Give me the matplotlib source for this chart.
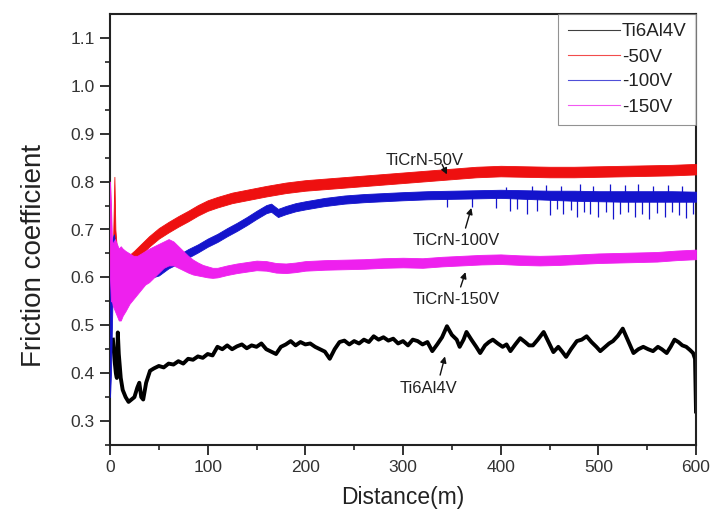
import matplotlib
matplotlib.use("Agg")
import matplotlib.pyplot as plt
from matplotlib.lines import Line2D

plt.rcParams['font.family'] = ['Liberation Sans', 'DejaVu Sans']

# ---------------- data ----------------
series_labels = ["Ti6Al4V", "-50V", "-100V", "-150V"]
series_colors = ["#000000", "#ee1010", "#1414cc", "#ee20ee"]

# -50V band (lower / upper envelope of the noisy trace)
d_50 = [0, 1, 3, 4.5, 5.5, 7, 10, 15, 20, 25, 30, 40, 50, 60, 70, 80, 90, 100, 110,
        125, 140, 160, 180, 200, 225, 250, 275, 300, 325, 350, 375, 400, 425, 450,
        475, 500, 525, 550, 575, 600]
lo_50 = [0.60, 0.61, 0.60, 0.62, 0.62, 0.62, 0.61, 0.617, 0.623, 0.634, 0.644, 0.664,
         0.681, 0.694, 0.706, 0.717, 0.729, 0.739, 0.746, 0.755, 0.761, 0.769, 0.776,
         0.781, 0.785, 0.789, 0.793, 0.797, 0.801, 0.805, 0.809, 0.811, 0.810, 0.809,
         0.809, 0.810, 0.811, 0.812, 0.813, 0.815]
hi_50 = [0.80, 0.67, 0.66, 0.81, 0.70, 0.66, 0.65, 0.643, 0.647, 0.656, 0.666, 0.686,
         0.703, 0.716, 0.728, 0.739, 0.751, 0.761, 0.768, 0.777, 0.783, 0.791, 0.798,
         0.803, 0.807, 0.811, 0.815, 0.819, 0.823, 0.827, 0.831, 0.833, 0.832, 0.831,
         0.831, 0.832, 0.833, 0.834, 0.835, 0.837]

# -100V band
d_100 = [0, 1, 2.5, 4, 6, 10, 15, 20, 30, 40, 50, 60, 70, 80, 90, 100, 110, 120, 130,
         140, 150, 160, 165, 172, 180, 190, 200, 220, 240, 260, 280, 300, 325, 350,
         375, 400, 425, 450, 475, 500, 525, 550, 575, 600]
lo_100 = [0.35, 0.40, 0.55, 0.60, 0.58, 0.57, 0.58, 0.588, 0.593, 0.598, 0.604, 0.619,
          0.629, 0.641, 0.652, 0.664, 0.674, 0.686, 0.697, 0.709, 0.722, 0.734, 0.737,
          0.726, 0.732, 0.738, 0.742, 0.749, 0.754, 0.757, 0.759, 0.761, 0.763, 0.764,
          0.765, 0.766, 0.764, 0.762, 0.760, 0.759, 0.758, 0.758, 0.758, 0.758]
hi_100 = [0.60, 0.65, 0.68, 0.69, 0.66, 0.64, 0.62, 0.612, 0.612, 0.617, 0.622, 0.637,
          0.647, 0.659, 0.669, 0.681, 0.691, 0.703, 0.714, 0.726, 0.739, 0.751, 0.754,
          0.743, 0.749, 0.755, 0.759, 0.766, 0.771, 0.774, 0.776, 0.778, 0.780, 0.781,
          0.782, 0.783, 0.782, 0.781, 0.781, 0.780, 0.780, 0.780, 0.780, 0.779]
# downward noise spikes of the -100V trace
spike_d_100 = [345, 371, 395, 410, 417, 427, 437, 450, 458, 464, 472, 478, 485, 491,
               500, 508, 515, 522, 530, 538, 545, 552, 560, 568, 575, 583, 590, 597]
spike_lo_100 = [0.748, 0.748, 0.745, 0.738, 0.742, 0.732, 0.738, 0.730, 0.742, 0.732,
                0.740, 0.727, 0.737, 0.732, 0.727, 0.737, 0.722, 0.732, 0.737, 0.727,
                0.732, 0.722, 0.734, 0.727, 0.737, 0.730, 0.724, 0.732]
# upward noise spikes of the -100V trace
upspike_d_100 = [405, 432, 446, 462, 481, 495, 512, 527, 541, 556, 571, 586]
upspike_hi_100 = [0.788, 0.790, 0.792, 0.790, 0.794, 0.791, 0.795, 0.792, 0.794,
                  0.790, 0.793, 0.790]

# -150V band
d_150 = [0, 1, 2, 3, 5, 7, 9, 11, 13, 16, 20, 24, 28, 32, 36, 40, 45, 50, 55, 60, 65,
         70, 75, 80, 85, 90, 95, 100, 105, 110, 120, 130, 140, 150, 160, 170, 180, 190,
         200, 220, 240, 260, 280, 300, 320, 340, 360, 380, 400, 420, 440, 460, 480,
         500, 520, 540, 560, 580, 600]
lo_150 = [0.60, 0.55, 0.55, 0.54, 0.53, 0.52, 0.51, 0.51, 0.52, 0.53, 0.545, 0.555,
          0.565, 0.575, 0.585, 0.59, 0.60, 0.61, 0.62, 0.625, 0.625, 0.62, 0.615, 0.61,
          0.606, 0.604, 0.602, 0.600, 0.599, 0.600, 0.605, 0.609, 0.612, 0.615, 0.614,
          0.610, 0.609, 0.611, 0.614, 0.616, 0.617, 0.618, 0.620, 0.621, 0.620, 0.623,
          0.625, 0.627, 0.628, 0.626, 0.625, 0.626, 0.628, 0.630, 0.631, 0.632, 0.633,
          0.636, 0.638]
hi_150 = [0.80, 0.75, 0.68, 0.67, 0.68, 0.67, 0.66, 0.665, 0.66, 0.655, 0.65, 0.645,
          0.645, 0.65, 0.655, 0.66, 0.665, 0.67, 0.675, 0.68, 0.675, 0.665, 0.655,
          0.645, 0.637, 0.631, 0.626, 0.623, 0.620, 0.620, 0.625, 0.629, 0.632, 0.635,
          0.634, 0.630, 0.629, 0.631, 0.634, 0.636, 0.637, 0.638, 0.640, 0.641, 0.640,
          0.643, 0.645, 0.647, 0.648, 0.646, 0.645, 0.646, 0.648, 0.650, 0.651, 0.652,
          0.653, 0.656, 0.658]

# Ti6Al4V trace
d_ti = [3, 5, 6, 7, 8, 9, 11, 13, 16, 19, 22, 25, 28, 30, 32, 34, 37, 41, 45, 50, 55,
        60, 65, 70, 75, 80, 85, 90, 95, 100, 105, 110, 115, 120, 125, 130, 135, 140,
        145, 150, 155, 160, 165, 170, 175, 180, 185, 190, 195, 200, 205, 210, 215, 220,
        225, 230, 235, 240, 245, 250, 255, 260, 265, 270, 275, 280, 285, 290, 295, 300,
        305, 310, 315, 320, 325, 330, 335, 340, 345, 350, 355, 358, 362, 365, 370, 375,
        379, 384, 388, 392, 397, 402, 406, 410, 415, 420, 425, 429, 433, 438, 444, 449,
        454, 459, 463, 467, 472, 478, 483, 488, 493, 498, 502, 507, 511, 515, 520, 525,
        530, 536, 541, 546, 551, 556, 561, 565, 570, 574, 578, 582, 586, 590, 594, 597,
        599, 600]
f_ti = [0.47, 0.42, 0.40, 0.39, 0.485, 0.44, 0.39, 0.365, 0.35, 0.34, 0.345, 0.35,
        0.37, 0.38, 0.35, 0.345, 0.38, 0.405, 0.41, 0.415, 0.412, 0.42, 0.418, 0.425,
        0.42, 0.43, 0.428, 0.435, 0.432, 0.44, 0.437, 0.455, 0.45, 0.458, 0.45, 0.456,
        0.46, 0.452, 0.458, 0.455, 0.462, 0.45, 0.445, 0.44, 0.455, 0.46, 0.467, 0.458,
        0.465, 0.46, 0.462, 0.455, 0.45, 0.445, 0.43, 0.45, 0.465, 0.468, 0.46, 0.467,
        0.462, 0.47, 0.465, 0.477, 0.47, 0.475, 0.468, 0.472, 0.462, 0.467, 0.458,
        0.47, 0.467, 0.46, 0.465, 0.446, 0.46, 0.475, 0.498, 0.48, 0.47, 0.455, 0.47,
        0.486, 0.47, 0.455, 0.442, 0.458, 0.465, 0.47, 0.462, 0.455, 0.46, 0.446, 0.46,
        0.473, 0.465, 0.458, 0.458, 0.47, 0.486, 0.465, 0.444, 0.455, 0.445, 0.434,
        0.45, 0.467, 0.47, 0.477, 0.465, 0.455, 0.446, 0.455, 0.462, 0.467, 0.478,
        0.493, 0.47, 0.442, 0.45, 0.455, 0.45, 0.446, 0.455, 0.45, 0.442, 0.455, 0.47,
        0.465, 0.458, 0.455, 0.448, 0.442, 0.43, 0.32]

# annotations: label, text position, arrow tail, arrow head (data units)
ann_labels = ["TiCrN-50V", "TiCrN-100V", "TiCrN-150V", "Ti6Al4V"]
ann_text_xy = [(322, 0.845), (355, 0.676), (355, 0.553), (326, 0.367)]
ann_tail_xy = [(340, 0.836), (364, 0.703), (359, 0.580), (338, 0.396)]
ann_head_xy = [(345, 0.815), (370, 0.745), (364, 0.611), (343, 0.435)]

x_ticks = [0, 100, 200, 300, 400, 500, 600]
y_ticks = [0.3, 0.4, 0.5, 0.6, 0.7, 0.8, 0.9, 1.0, 1.1]

# ---------------- figure ----------------
W, H = 713, 515
fig = plt.figure(figsize=(W / 100, H / 100), dpi=100)
ax = fig.add_axes([110 / W, 1 - 445 / H, 586 / W, 431 / H])

c_ti, c_50, c_100, c_150 = series_colors
ax.plot(d_ti, f_ti, color=c_ti, lw=2.8, zorder=2)
ax.fill_between(d_50, lo_50, hi_50, color=c_50, lw=0.6, edgecolor=c_50, zorder=3)
ax.fill_between(d_100, lo_100, hi_100, color=c_100, lw=0.6, edgecolor=c_100, zorder=4)
ax.vlines(spike_d_100, spike_lo_100, [0.77] * len(spike_d_100), color=c_100,
          lw=0.9, zorder=4)
ax.vlines(upspike_d_100, [0.77] * len(upspike_d_100), upspike_hi_100, color=c_100,
          lw=0.9, zorder=4)
ax.fill_between(d_150, lo_150, hi_150, color=c_150, lw=0.6, edgecolor=c_150, zorder=5)

ax.set_xlim(0, 600)
ax.set_ylim(0.25, 1.15)
ax.set_xticks(x_ticks)
ax.set_yticks(y_ticks)
ax.set_xticks([50, 150, 250, 350, 450, 550], minor=True)
ax.set_yticks([0.25 + 0.1 * i for i in range(9)], minor=True)
ax.yaxis.set_major_formatter(matplotlib.ticker.FormatStrFormatter('%.1f'))

for sp in ax.spines.values():
    sp.set_linewidth(1.5)
    sp.set_color('#222222')

ax.tick_params(axis='both', which='major', direction='out', length=7, width=1.3,
               labelsize=12.5, colors='#222222', labelcolor='#333333', pad=4)
ax.tick_params(axis='both', which='minor', direction='out', length=3.5, width=1.2,
               colors='#222222')
ax.tick_params(top=False, right=False, which='both')

ax.set_xlabel("Distance(m)", fontsize=16.5, color='#222222', labelpad=8)
ax.set_ylabel("Friction coefficient", fontsize=20, color='#222222')
ax.yaxis.set_label_coords(-0.108, 0.44)

handles = [Line2D([], [], color=c, lw=0.8, alpha=0.75) for c in series_colors]
leg = ax.legend(handles, series_labels, loc='upper right', bbox_to_anchor=(1, 1),
                borderaxespad=0, frameon=True, fancybox=False, edgecolor='#777777',
                fontsize=13.5, handlelength=2.8, handletextpad=0.1,
                labelspacing=0.42, borderpad=0.5)
leg.get_frame().set_linewidth(0.8)
for t in leg.get_texts():
    t.set_color('#222222')

for lab, txy, tail, head in zip(ann_labels, ann_text_xy, ann_tail_xy, ann_head_xy):
    ax.text(txy[0], txy[1], lab, fontsize=12, color='#222222', ha='center',
            va='center', zorder=6)
    ax.annotate('', xy=head, xytext=tail,
                arrowprops=dict(arrowstyle='-|>', color='#111111', lw=1.0,
                                mutation_scale=9, shrinkA=0, shrinkB=0), zorder=6)

fig.savefig("out.png", dpi=100)
